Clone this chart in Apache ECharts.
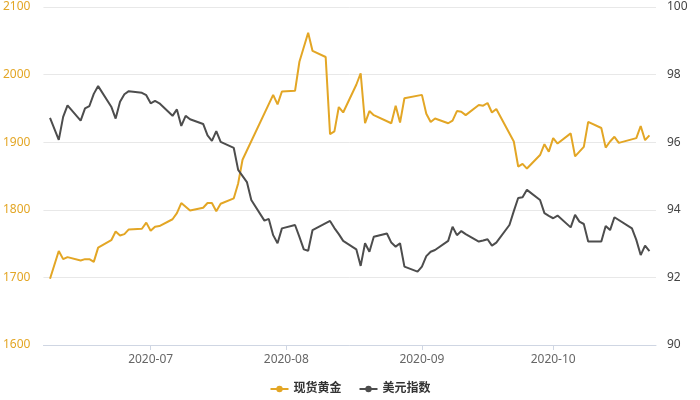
<!DOCTYPE html>
<html>
<head>
<meta charset="utf-8">
<script src="https://cdn.jsdelivr.net/npm/echarts@6/dist/echarts.min.js"></script>
<style>html,body{margin:0;padding:0;background:#fff}#c{width:700px;height:400px}</style>
</head>
<body>
<div id="c"></div>
<script>
const seriesNames = ['现货黄金', '美元指数'];
const goldDates = ['2020-06-08','2020-06-10','2020-06-11','2020-06-12','2020-06-15','2020-06-16','2020-06-17','2020-06-18','2020-06-19','2020-06-22','2020-06-23','2020-06-24','2020-06-25','2020-06-26','2020-06-29','2020-06-30','2020-07-01','2020-07-02','2020-07-03','2020-07-06','2020-07-07','2020-07-08','2020-07-10','2020-07-13','2020-07-14','2020-07-15','2020-07-16','2020-07-17','2020-07-20','2020-07-21','2020-07-22','2020-07-29','2020-07-30','2020-07-31','2020-08-03','2020-08-04','2020-08-06','2020-08-07','2020-08-10','2020-08-11','2020-08-12','2020-08-13','2020-08-14','2020-08-17','2020-08-18','2020-08-19','2020-08-20','2020-08-21','2020-08-25','2020-08-26','2020-08-27','2020-08-28','2020-09-01','2020-09-02','2020-09-03','2020-09-04','2020-09-07','2020-09-08','2020-09-09','2020-09-10','2020-09-11','2020-09-14','2020-09-15','2020-09-16','2020-09-17','2020-09-18','2020-09-22','2020-09-23','2020-09-24','2020-09-25','2020-09-28','2020-09-29','2020-09-30','2020-10-01','2020-10-02','2020-10-05','2020-10-06','2020-10-08','2020-10-09','2020-10-12','2020-10-13','2020-10-14','2020-10-15','2020-10-16','2020-10-20','2020-10-21','2020-10-22','2020-10-23'];
const goldValues = [1698,1739,1727,1730,1725,1727,1727,1723,1744,1755,1768,1762,1764,1771,1772,1781,1769,1775,1776,1786,1795,1810,1799,1803,1810,1810,1798,1809,1817,1839,1874,1970,1956,1975,1976,2019,2062,2035,2026,1912,1916,1952,1944,1985,2002,1928,1946,1940,1928,1954,1929,1965,1970,1942,1930,1935,1928,1932,1946,1945,1940,1955,1954,1958,1944,1949,1901,1864,1868,1861,1881,1897,1886,1906,1898,1913,1879,1893,1930,1921,1892,1901,1908,1899,1906,1924,1903,1910];
const usdDates = ['2020-06-08','2020-06-10','2020-06-11','2020-06-12','2020-06-15','2020-06-16','2020-06-17','2020-06-18','2020-06-19','2020-06-22','2020-06-23','2020-06-24','2020-06-25','2020-06-26','2020-06-29','2020-06-30','2020-07-01','2020-07-02','2020-07-03','2020-07-06','2020-07-07','2020-07-08','2020-07-09','2020-07-10','2020-07-13','2020-07-14','2020-07-15','2020-07-16','2020-07-17','2020-07-20','2020-07-21','2020-07-23','2020-07-24','2020-07-27','2020-07-28','2020-07-29','2020-07-30','2020-07-31','2020-08-03','2020-08-04','2020-08-05','2020-08-06','2020-08-07','2020-08-11','2020-08-12','2020-08-13','2020-08-14','2020-08-17','2020-08-18','2020-08-19','2020-08-20','2020-08-21','2020-08-24','2020-08-25','2020-08-26','2020-08-27','2020-08-28','2020-08-31','2020-09-01','2020-09-02','2020-09-03','2020-09-04','2020-09-07','2020-09-08','2020-09-09','2020-09-10','2020-09-11','2020-09-14','2020-09-15','2020-09-16','2020-09-17','2020-09-18','2020-09-21','2020-09-22','2020-09-23','2020-09-24','2020-09-25','2020-09-28','2020-09-29','2020-09-30','2020-10-01','2020-10-02','2020-10-05','2020-10-06','2020-10-07','2020-10-08','2020-10-09','2020-10-12','2020-10-13','2020-10-14','2020-10-15','2020-10-19','2020-10-20','2020-10-21','2020-10-22','2020-10-23'];
const usdValues = [96.72,96.07,96.75,97.09,96.64,97.00,97.07,97.43,97.66,97.05,96.70,97.20,97.42,97.51,97.46,97.39,97.15,97.22,97.15,96.78,96.97,96.48,96.78,96.68,96.54,96.20,96.04,96.33,96.01,95.83,95.18,94.82,94.29,93.68,93.73,93.25,93.01,93.45,93.55,93.20,92.83,92.79,93.40,93.67,93.46,93.28,93.08,92.83,92.34,93.01,92.76,93.20,93.30,93.03,92.91,93.01,92.32,92.17,92.32,92.63,92.76,92.81,93.08,93.50,93.25,93.37,93.28,93.06,93.09,93.13,92.94,93.03,93.55,93.96,94.35,94.37,94.59,94.29,93.90,93.82,93.75,93.83,93.48,93.85,93.65,93.58,93.06,93.06,93.52,93.40,93.78,93.45,93.11,92.66,92.94,92.78];

const goldColor = '#E3A625';
const usdColor = '#4D4D4D';
const FONT = "'Noto Sans', 'Noto Sans CJK SC', sans-serif";

const chart = echarts.init(document.getElementById('c'), null, {renderer: 'canvas'});
chart.setOption({
  animation: false,
  textStyle: {fontFamily: FONT},
  color: [goldColor, usdColor],
  grid: {left: 43, right: 44, top: 7, bottom: 55, containLabel: false},
  legend: {
    bottom: 0,
    left: 'center',
    itemWidth: 18,
    itemHeight: 8,
    itemGap: 17,
    textStyle: {fontSize: 12, color: '#333', fontWeight: 'bold', fontFamily: FONT},
    data: seriesNames
  },
  xAxis: {
    type: 'time',
    min: '2020-06-06 12:00',
    max: '2020-10-24 12:00',
    minInterval: 28 * 86400000,
    splitLine: {show: false},
    axisLine: {lineStyle: {color: '#CFD6E3'}},
    axisTick: {show: true, length: 5, lineStyle: {color: '#CFD6E3'}},
    axisLabel: {
      color: '#666', fontSize: 12, margin: 9,
      formatter: function (v) {
        const d = new Date(v);
        const m = d.getMonth() + 1;
        return d.getFullYear() + '-' + (m < 10 ? '0' + m : m);
      }
    }
  },
  yAxis: [
    {
      type: 'value', min: 1600, max: 2100, interval: 100,
      axisLine: {show: false}, axisTick: {show: false},
      splitLine: {lineStyle: {color: '#E8E8E8'}},
      axisLabel: {color: goldColor, fontSize: 12, margin: 13, formatter: v => String(v)}
    },
    {
      type: 'value', min: 90, max: 100, interval: 2,
      axisLine: {show: false}, axisTick: {show: false},
      splitLine: {show: false},
      axisLabel: {color: '#444', fontSize: 12, margin: 11, formatter: v => String(v)}
    }
  ],
  series: [
    {
      name: seriesNames[0], type: 'line', yAxisIndex: 0,
      symbol: 'circle', symbolSize: 7, showSymbol: false,
      lineStyle: {width: 2, color: goldColor},
      itemStyle: {color: goldColor},
      data: goldDates.map((d, i) => [d, goldValues[i]])
    },
    {
      name: seriesNames[1], type: 'line', yAxisIndex: 1,
      symbol: 'circle', symbolSize: 7, showSymbol: false,
      lineStyle: {width: 2, color: usdColor},
      itemStyle: {color: usdColor},
      data: usdDates.map((d, i) => [d, usdValues[i]])
    }
  ]
});
</script>
</body>
</html>
